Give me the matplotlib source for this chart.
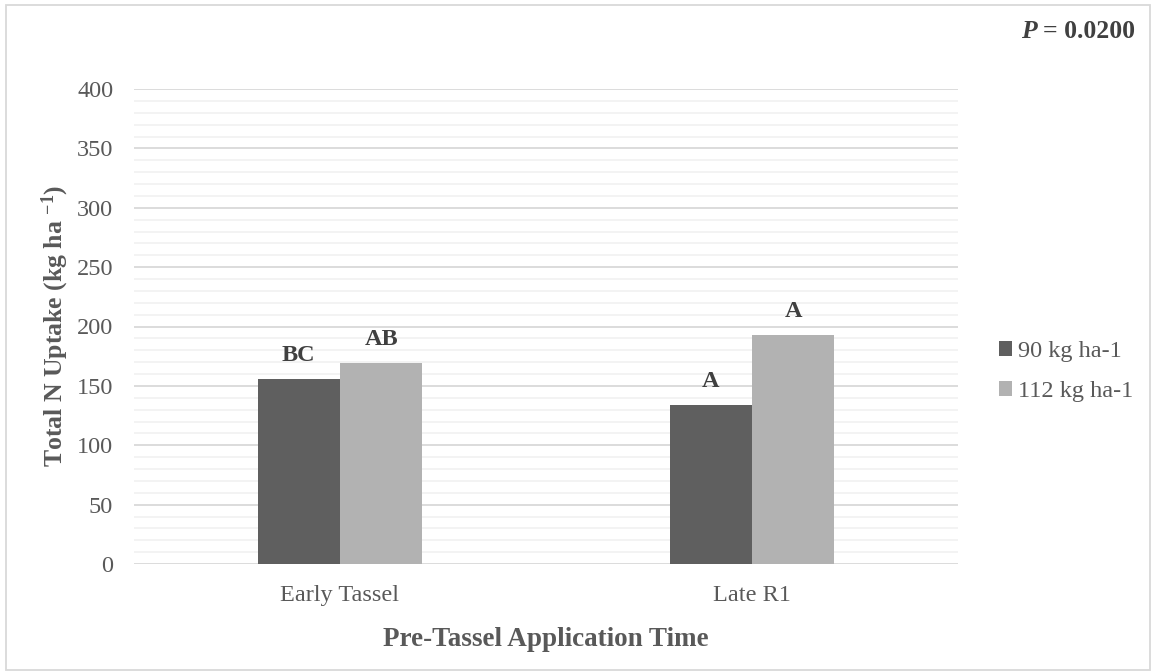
import matplotlib
matplotlib.use("Agg")
import matplotlib.pyplot as plt
from matplotlib.patches import Rectangle
import numpy as np

categories = ["Early Tassel", "Late R1"]
series_names = ["90 kg ha-1", "112 kg ha-1"]
vals_90 = [156, 134]
vals_112 = [169.5, 193]
letters_90 = ["BC", "A"]
letters_112 = ["AB", "A"]

plt.rcParams['font.family'] = ['Liberation Serif', 'DejaVu Serif']
plt.rcParams['mathtext.fontset'] = 'custom'
plt.rcParams['mathtext.rm'] = 'Liberation Serif'
plt.rcParams['mathtext.bf'] = 'Liberation Serif:bold'
plt.rcParams['mathtext.it'] = 'Liberation Serif:italic'

W, H = 1153, 672
fig = plt.figure(figsize=(W/100, H/100), dpi=100)
ax = fig.add_axes([134/W, 1-564/H, (958-134)/W, (564-89)/H])

txt = '#595959'
x = np.arange(len(categories))
bw = 0.2
b1 = ax.bar(x - bw/2, vals_90, bw, color='#5f5f5f', label=series_names[0], zorder=3)
b2 = ax.bar(x + bw/2, vals_112, bw, color='#b2b2b2', label=series_names[1], zorder=3)

for bars, labs in ((b1, letters_90), (b2, letters_112)):
    for r, l in zip(bars, labs):
        ax.annotate(l, (r.get_x()+r.get_width()/2, r.get_height()), xytext=(0, 9),
                    textcoords='offset points', ha='center', va='bottom',
                    fontsize=17.5, fontweight='bold', color='#404040')

ax.set_xlim(-0.5, 1.5)
ax.set_ylim(0, 400)
ax.set_yticks(np.arange(0, 401, 50))
ax.set_yticks(np.arange(0, 401, 10), minor=True)
ax.yaxis.grid(True, which='major', color='#d9d9d9', lw=1.3, zorder=0)
ax.yaxis.grid(True, which='minor', color='#f2f2f2', lw=1.3, zorder=0)
ax.tick_params(axis='both', which='both', length=0, labelsize=17.5, labelcolor=txt)
ax.tick_params(axis='y', pad=15)
ax.tick_params(axis='x', pad=15)
ax.set_xticks(x)
ax.set_xticklabels(categories)
for s in ax.spines.values():
    s.set_visible(False)

ax.set_ylabel(r'Total N Uptake (kg ha $^{\mathbf{-1}}$)', fontsize=18.5, fontweight='bold',
              color=txt, labelpad=4)
ax.set_xlabel('Pre-Tassel Application Time', fontsize=19.5, fontweight='bold', color=txt, labelpad=15)

leg = ax.legend(loc='center left', bbox_to_anchor=(1.0498, 0.405), frameon=False, fontsize=17.5,
                borderaxespad=0, borderpad=0,
                handlelength=0.55, handleheight=0.55, handletextpad=0.25, labelspacing=0.8)
for t in leg.get_texts():
    t.set_color(txt)

t2 = fig.text(1135/W, 1-32/H, '= 0.0200', ha='right', va='center', fontsize=18.5,
              fontweight='bold', color='#404040')
fig.canvas.draw()
bb = t2.get_window_extent()
fig.text((bb.x0 - 6)/W, 1-32/H, 'P', ha='right', va='center', fontsize=18.5,
         fontweight='bold', fontstyle='italic', color='#404040')

fig.patches.append(Rectangle((6/W, 2/H), (1150-6)/W, (667-2)/H, transform=fig.transFigure,
                             fill=False, edgecolor='#d9d9d9', lw=1.3))

fig.savefig('out.png', dpi=100)
